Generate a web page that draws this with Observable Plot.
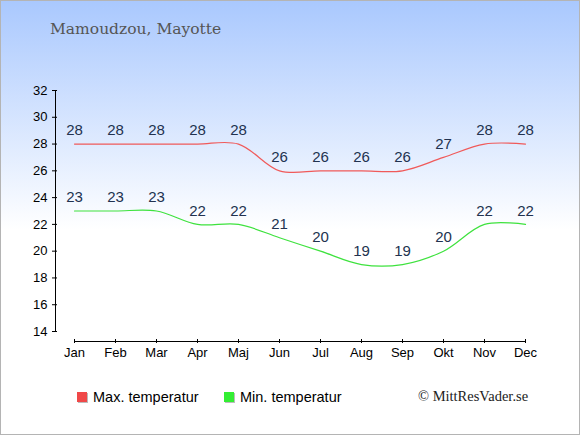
<!DOCTYPE html>
<html>
<head>
<meta charset="utf-8">
<script src="https://cdn.jsdelivr.net/npm/d3@7"></script>
<script src="https://cdn.jsdelivr.net/npm/@observablehq/plot@0.6"></script>
<style>
  html, body { margin: 0; padding: 0; }
  #wrap {
    position: relative; width: 580px; height: 435px; overflow: hidden;
    background: linear-gradient(to bottom, #a9c8fe 0px, #ffffff 230px, #ffffff 435px);
    box-shadow: inset 0 0 0 1px #b4b4b4;
    font-family: "Liberation Sans", Arial, sans-serif;
  }
  #chart { position: absolute; left: 0; top: 0; }
  #title { position: absolute; left: 50px; top: 20px; font-family: "DejaVu Serif", Georgia, serif; font-size: 15.5px; color: #555; white-space: nowrap; }
  .leg { position: absolute; top: 389px; font-size: 14.5px; color: #000; white-space: nowrap; display: flex; align-items: center; }
  .sw { width: 10px; height: 10px; margin-right: 6px; box-shadow: 1px 1px 0 #bbb; }
  #copy { position: absolute; left: 418px; top: 388px; font-family: "Liberation Serif", "Times New Roman", serif; font-size: 14.5px; color: #222; white-space: nowrap; }
</style>
</head>
<body>
<div id="wrap">
  <div id="chart"></div>
  <div id="title">Mamoudzou, Mayotte</div>
  <div class="leg" style="left:77px"><div class="sw" style="background:#f04848"></div>Max. temperatur</div>
  <div class="leg" style="left:224px"><div class="sw" style="background:#33ee33"></div>Min. temperatur</div>
  <div id="copy">© MittResVader.se</div>
</div>
<script>
const months = ["Jan","Feb","Mar","Apr","Maj","Jun","Jul","Aug","Sep","Okt","Nov","Dec"];
const maxTemp = [28,28,28,28,28,26,26,26,26,27,28,28];
const minTemp = [23,23,23,22,22,21,20,19,19,20,22,22];
const yTicks = [14,16,18,20,22,24,26,28,30,32];

const maxData = months.map((m, i) => ({month: m, value: maxTemp[i]}));
const minData = months.map((m, i) => ({month: m, value: minTemp[i]}));

const chart = Plot.plot({
  width: 580,
  height: 435,
  marginLeft: 55,
  marginRight: 55,
  marginTop: 90,
  marginBottom: 94,
  style: {background: "transparent", fontFamily: "'Liberation Sans', Arial, sans-serif", fontSize: "13px", color: "#000", overflow: "visible"},
  x: {type: "point", domain: months, padding: 0, insetLeft: 19, label: null},
  y: {domain: [14, 32], insetBottom: 10, label: null},
  marks: [
    Plot.frame({anchor: "left", insetBottom: 10, stroke: "#000", strokeOpacity: 1}),
    Plot.frame({anchor: "bottom", insetLeft: 19, stroke: "#000", strokeOpacity: 1}),
    Plot.axisY({ticks: yTicks, tickSize: 5, dx: 2, tickPadding: 5, stroke: "#000", strokeOpacity: 1, fill: "#000", fontSize: 13, label: null}),
    Plot.axisX({tickSize: 4, dy: -2, tickPadding: 4, stroke: "#000", strokeOpacity: 1, fill: "#000", fontSize: 13, label: null}),
    Plot.line(maxData, {x: "month", y: "value", stroke: "#f05a5a", strokeWidth: 1.2, curve: "catmull-rom"}),
    Plot.line(minData, {x: "month", y: "value", stroke: "#3ee23e", strokeWidth: 1.2, curve: "catmull-rom"}),
    Plot.text(maxData, {x: "month", y: "value", text: d => String(d.value), dy: -13.5, fill: "#22324f", fontSize: 15}),
    Plot.text(minData, {x: "month", y: "value", text: d => String(d.value), dy: -13.5, fill: "#22324f", fontSize: 15})
  ]
});
document.getElementById("chart").appendChild(chart);
</script>
</body>
</html>
